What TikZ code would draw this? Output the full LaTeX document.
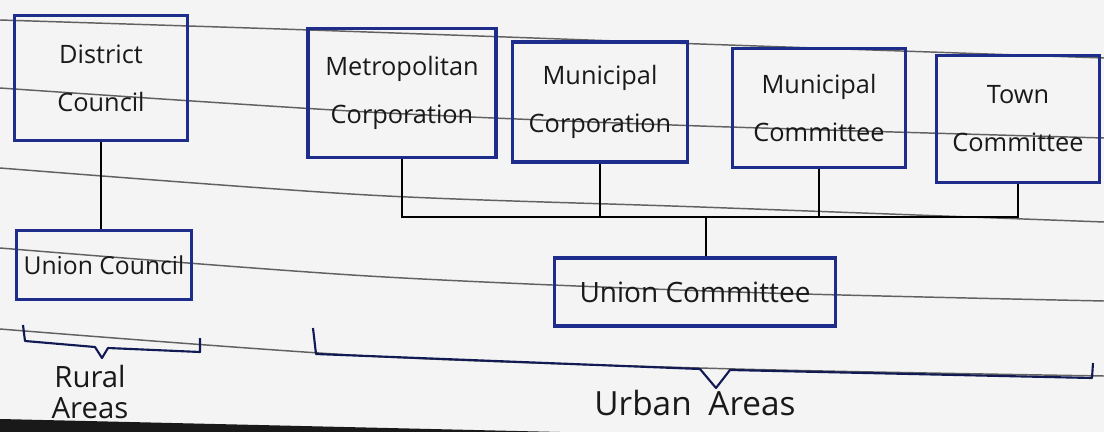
\documentclass[tikz,border=0pt]{standalone}
\usepackage{fontspec}
\setmainfont{Open Sans}
\begin{document}
\begin{tikzpicture}[x=0.75pt,y=-0.75pt,
  ruled/.style={draw=black!62, line width=1.1pt},
  box/.style={draw=boxblue, line width=2.6pt, align=center, inner sep=0pt,
    font=\fontsize{19}{36}\selectfont, text=black!90},
  conn/.style={draw=black, line width=1.3pt},
  bracepath/.style={draw=boxblue!60!black, line width=1.6pt, line join=round},
  lbl/.style={font=\fontsize{22}{23}\selectfont, text=black!90, align=center}]
\definecolor{boxblue}{HTML}{1E2C8C}
\definecolor{paper}{HTML}{F4F4F4}
\useasboundingbox (0,0) rectangle (1104,432);
\fill[paper] (0,0) rectangle (1104,432);
% ruled paper lines
\draw[ruled] plot[smooth] coordinates {(0,20) (310,30) (700,44) (1104,58)};
\draw[ruled] plot[smooth] coordinates {(0,88) (368,112) (700,126) (1104,138)};
\draw[ruled] plot[smooth] coordinates {(0,168) (368,195) (700,207) (1104,222)};
\draw[ruled] plot[smooth] coordinates {(0,248) (368,276) (736,292) (1104,301)};
\draw[ruled] plot[smooth] coordinates {(0,329) (368,356) (736,369) (1104,376)};
\fill[black!90] (0,419) -- (560,432) -- (0,432) -- cycle;
% boxes
\node[box, minimum width=130pt, minimum height=94pt] (dc) at (101,78) {District\\Council};
\node[box, minimum width=141pt, minimum height=97pt] (metro) at (402,93) {Metropolitan\\Corporation};
\node[box, minimum width=131pt, minimum height=90pt] (mcorp) at (600,102) {Municipal\\Corporation};
\node[box, minimum width=130pt, minimum height=89pt] (mcom) at (819,108) {Municipal\\Committee};
\node[box, minimum width=122pt, minimum height=95pt] (town) at (1018,119) {Town\\Committee};
\node[box, minimum width=131pt, minimum height=52pt, font=\fontsize{18.5}{24}\selectfont] (ucl) at (104,265) {Union Council};
\node[box, minimum width=211pt, minimum height=51pt, font=\fontsize{21}{24}\selectfont] (ucm) at (695,292) {Union Committee};
% connectors
\coordinate (busy) at (0,217);
\coordinate (jn) at (706,217);
\draw[conn] (dc.south) -- (dc.south |- ucl.north);
\draw[conn] (metro.south) -- (metro.south |- busy) -- (town.south |- busy) -- (town.south);
\draw[conn] (mcorp.south) -- (mcorp.south |- busy);
\draw[conn] (mcom.south) -- (mcom.south |- busy);
\draw[conn] (jn) -- (jn |- ucm.north);
% braces
\draw[bracepath] (23,325) -- (25,341) -- (95,347) -- (102,358) -- (108,348) -- (200,352) -- (200,338);
\draw[bracepath] (313,328) -- (316,354) -- (700,369) -- (716,388) -- (730,370) -- (1092,378) -- (1093,363);
% labels
\node[lbl] (rural) at (90,392) {Rural\\Areas};
\node[lbl, font=\fontsize{25}{30}\selectfont] (urban) at (695,403) {Urban\enspace Areas};
\end{tikzpicture}
\end{document}
